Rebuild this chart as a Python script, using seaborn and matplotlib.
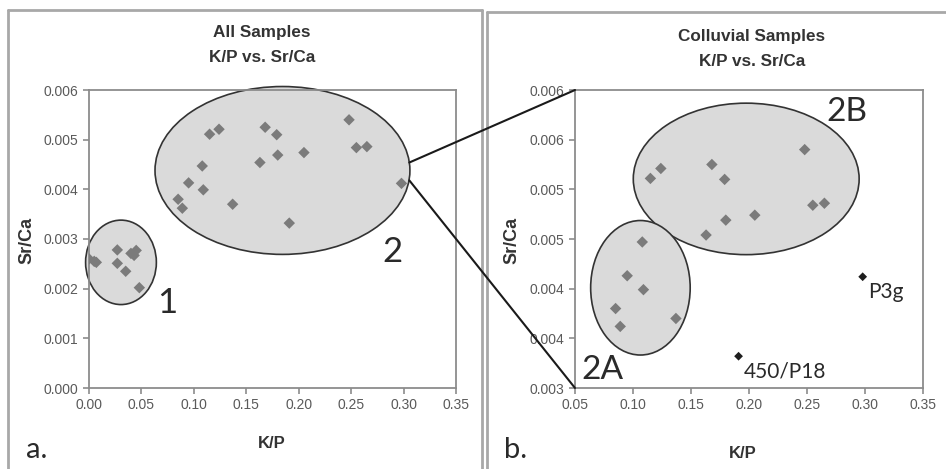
import matplotlib
matplotlib.use('Agg')
import matplotlib.pyplot as plt
import seaborn as sns
from pandas import DataFrame
from matplotlib.patches import Ellipse, ConnectionPatch
from matplotlib.lines import Line2D

# K/P and Sr/Ca, cluster 1 then cluster 2
kp = [0.000, 0.005, 0.007, 0.027, 0.027, 0.035, 0.040, 0.043, 0.045, 0.048,
      0.085, 0.089, 0.095, 0.108, 0.109, 0.115, 0.124, 0.137, 0.163, 0.168,
      0.179, 0.180, 0.191, 0.205, 0.248, 0.255, 0.265, 0.298]
sr_ca = [0.00260, 0.00255, 0.00253, 0.00278, 0.00251, 0.00235, 0.00271, 0.00267, 0.00277, 0.00202,
         0.00380, 0.00362, 0.00413, 0.00447, 0.00399, 0.00511, 0.00521, 0.00370, 0.00454, 0.00525,
         0.00510, 0.00469, 0.00332, 0.00474, 0.00540, 0.00484, 0.00486, 0.00412]
cluster = ['1'] * 10 + ['2'] * 18
sample = [''] * 22 + ['450/P18'] + [''] * 4 + ['P3g']

left_xticks = [0.00, 0.05, 0.10, 0.15, 0.20, 0.25, 0.30, 0.35]
left_yticks = [0.000, 0.001, 0.002, 0.003, 0.004, 0.005, 0.006]
right_xticks = [0.05, 0.10, 0.15, 0.20, 0.25, 0.30, 0.35]
right_yticks = [0.003, 0.0035, 0.004, 0.0045, 0.005, 0.0055, 0.006]
right_ylabels = ['0.003', '0.004', '0.004', '0.005', '0.005', '0.006', '0.006']

df = DataFrame({'kp': kp, 'srca': sr_ca, 'cluster': cluster, 'sample': sample})
df['kind'] = ['outlier' if s else 'normal' for s in df['sample']]

sns.set_style('ticks')
plt.rcParams['font.family'] = ['Liberation Sans', 'DejaVu Sans']

fig = plt.figure(figsize=(9.46, 4.69), dpi=100)
W, H = 946, 469


def px_axes(x0, x1, y0, y1):
    return fig.add_axes([x0 / W, 1 - y1 / H, (x1 - x0) / W, (y1 - y0) / H])


ax1 = px_axes(89, 456, 90, 388)
ax2 = px_axes(575, 923, 90, 388)

gray = '#7b7b7b'
frame = '#8c8c8c'
tick_col = '#5a5a5a'


def style_axes(ax):
    for sp in ax.spines.values():
        sp.set_color(frame)
        sp.set_linewidth(1.3)
    ax.tick_params(colors=frame, labelcolor=tick_col, labelsize=10, length=4, width=1.2)
    ax.set_xlabel('')
    ax.set_ylabel('')
    leg = ax.get_legend()
    if leg:
        leg.remove()


def ring(ax, xy, w, h):
    ax.add_patch(Ellipse(xy, w, h, facecolor='#dadada', edgecolor='#333333',
                         lw=1.2, zorder=1, clip_on=False))


# panel a
ring(ax1, (0.0305, 0.00253), 0.0675, 0.0017)
ring(ax1, (0.1845, 0.00438), 0.2431, 0.00338)
sns.scatterplot(data=df, x='kp', y='srca', ax=ax1, marker='D', s=34, color=gray,
                edgecolor='none', zorder=3)
ax1.set_xlim(0, 0.35)
ax1.set_ylim(0, 0.006)
ax1.set_xticks(left_xticks)
ax1.set_xticklabels([f'{t:.2f}' for t in left_xticks])
ax1.set_yticks(left_yticks)
ax1.set_yticklabels([f'{t:.3f}' for t in left_yticks])
style_axes(ax1)

# panel b
col = df[df['cluster'] == '2']
ring(ax2, (0.1976, 0.005105), 0.1947, 0.001525)
ring(ax2, (0.1064, 0.004009), 0.0858, 0.001354)
sns.scatterplot(data=col[col['kind'] == 'normal'], x='kp', y='srca', ax=ax2,
                marker='D', s=34, color=gray, edgecolor='none', zorder=3)
sns.scatterplot(data=col[col['kind'] == 'outlier'], x='kp', y='srca', ax=ax2,
                marker='D', s=20, color='#1e1e1e', edgecolor='none', zorder=3)
ax2.set_xlim(0.05, 0.35)
ax2.set_ylim(0.003, 0.006)
ax2.set_xticks(right_xticks)
ax2.set_xticklabels([f'{t:.2f}' for t in right_xticks])
ax2.set_yticks(right_yticks)
ax2.set_yticklabels(right_ylabels)
style_axes(ax2)

lab_font = ['Lato', 'DejaVu Sans']
for _, r in col[col['kind'] == 'outlier'].iterrows():
    ax2.annotate(r['sample'], (r['kp'], r['srca']), xytext=(4, -11),
                 textcoords='offset points', fontsize=15, family=lab_font,
                 color='#2a2a2a', va='center')

# zoom lines from cluster 2 in panel a to panel b
for ya, yb in [(0.00454, 0.006), (0.00418, 0.003)]:
    con = ConnectionPatch(xyA=(0.3055, ya), coordsA=ax1.transData,
                          xyB=(0.05, yb), coordsB=ax2.transData,
                          color='#1a1a1a', lw=1.5, zorder=5)
    fig.add_artist(con)


def ftext(x, y, s, **kw):
    fig.text(x / W, 1 - y / H, s, **kw)


# titles and axis labels
bold = dict(ha='center', va='center', fontweight='bold', color='#333333')
ftext(262, 33, 'All Samples', fontsize=12.3, **bold)
ftext(262, 58, 'K/P vs. Sr/Ca', fontsize=12.3, **bold)
ftext(752, 37, 'Colluvial Samples', fontsize=12.3, **bold)
ftext(752, 62, 'K/P vs. Sr/Ca', fontsize=12.3, **bold)
ftext(272, 443, 'K/P', fontsize=12, **bold)
ftext(743, 453, 'K/P', fontsize=12, **bold)
ftext(27, 240, 'Sr/Ca', rotation=90, fontsize=13, **bold)
ftext(512, 240, 'Sr/Ca', rotation=90, fontsize=13, **bold)

# cluster labels and panel letters
big = dict(ha='center', va='center', family=lab_font, color='#2a2a2a')
ftext(167, 303, '1', fontsize=25, **big)
ftext(392, 252, '2', fontsize=25, **big)
ftext(847, 112, '2B', fontsize=24, **big)
ftext(602, 370, '2A', fontsize=24, **big)
ftext(37, 450, 'a.', fontsize=21, **big)
ftext(516, 450, 'b.', fontsize=21, **big)

# panel borders
border = '#a8a8a8'
for xs, ys in [([8, 8], [10, H + 5]), ([8, 482], [10, 10]), ([482, 482], [10, H + 5]),
               ([487, 487], [12, H + 5]), ([487, W + 5], [12, 12])]:
    fig.add_artist(Line2D([x / W for x in xs], [1 - y / H for y in ys], color=border, lw=2))

fig.savefig('out.png', dpi=100)
